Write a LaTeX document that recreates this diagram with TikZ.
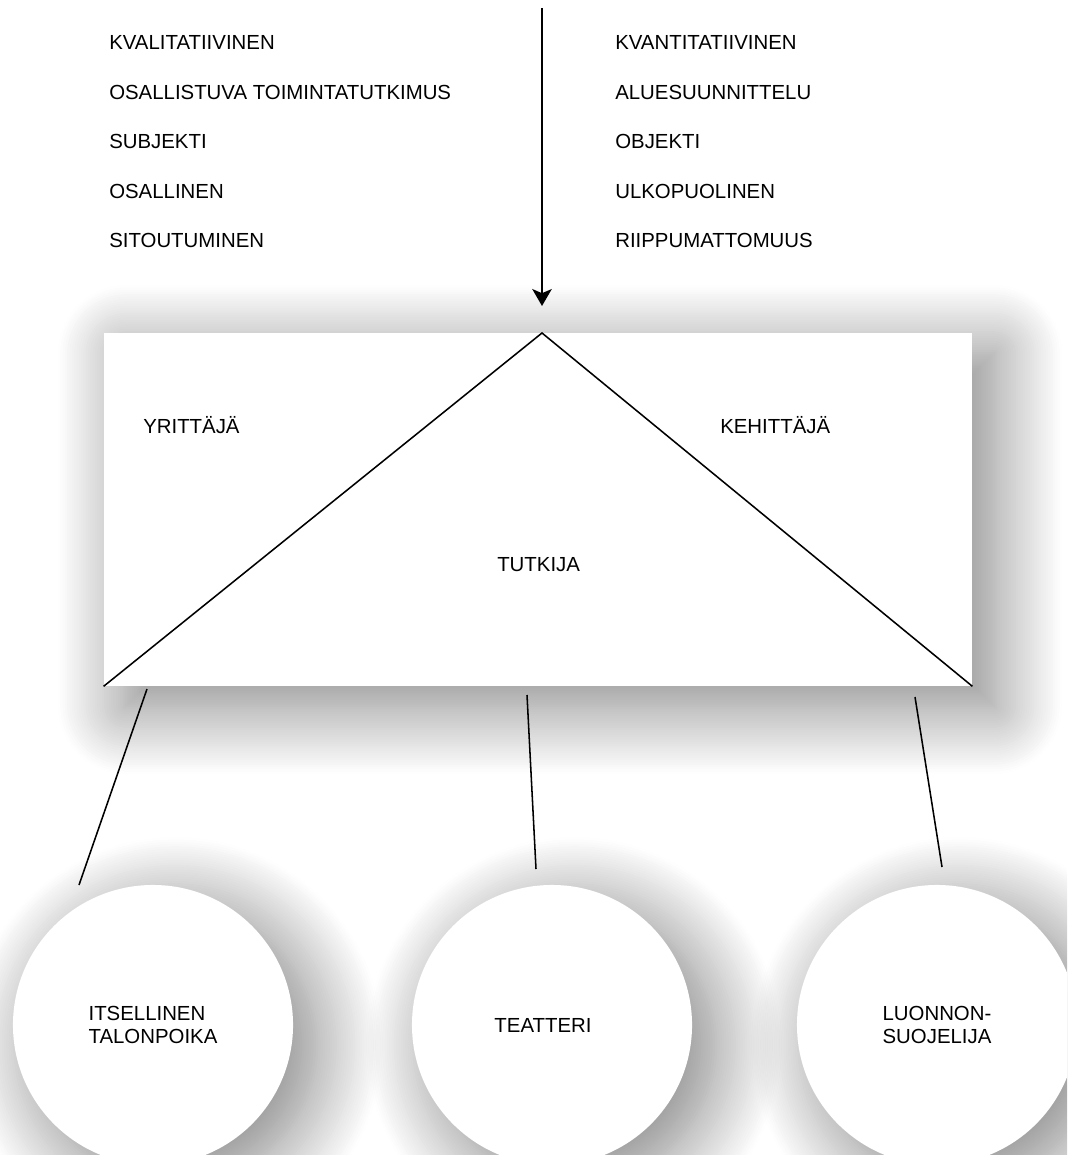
\documentclass[tikz,border=0pt]{standalone}
\usepackage{fontspec}
\setmainfont{Liberation Sans}
\usetikzlibrary{arrows.meta,shadows.blur}

\tikzset{
  soft/.style={blur shadow={shadow xshift=0.55cm,shadow yshift=-0.5cm,
      shadow blur radius=1.7cm,shadow opacity=50,shadow blur steps=30}},
  box/.style={fill=white,minimum width=21.7cm,minimum height=8.825cm,inner sep=0pt,soft},
  disc/.style={circle,fill=white,minimum size=7cm,inner sep=0pt,align=left,soft},
  word/.style={anchor=base west,inner sep=0pt},
  link/.style={line width=1.1pt},
  feed/.style={line width=2.1pt,-{Stealth[length=0.42cm,width=0.48cm,inset=0.1cm]}}
}

\begin{document}
\begin{tikzpicture}[x=0.025cm,y=-0.025cm,font=\fontsize{14.5}{17}\selectfont]
  \useasboundingbox (0,0) rectangle (1067,1155);
  \clip (0,0) rectangle (1067,1155);

  % the two research traditions
  \node[word] (kval) at (109,50) {KVALITATIIVINEN};
  \node[word] (osal) at (109,99.5) {OSALLISTUVA TOIMINTATUTKIMUS};
  \node[word] (subj) at (109,149) {SUBJEKTI};
  \node[word] (osll) at (109,198.5) {OSALLINEN};
  \node[word] (sito) at (109,248) {SITOUTUMINEN};

  \node[word] (kvan) at (615,50) {KVANTITATIIVINEN};
  \node[word] (alue) at (615,99.5) {ALUESUUNNITTELU};
  \node[word] (obje) at (615,149) {OBJEKTI};
  \node[word] (ulko) at (615,198.5) {ULKOPUOLINEN};
  \node[word] (riip) at (615,248) {RIIPPUMATTOMUUS};

  % roles
  \node[box] (roles) at (538,509.5) {};
  \coordinate (apex) at (542,333);
  \draw[link] (roles.south west) -- (apex) -- (roles.south east);
  \node[word] (yrit) at (143,433) {YRITTÄJÄ};
  \node[word] (kehi) at (720,433) {KEHITTÄJÄ};
  \node[word] (tutk) at (497,571) {TUTKIJA};

  \coordinate (src) at (542,8);
  \coordinate (tip) at (542,306);
  \draw[feed] (src) -- (tip);

  % figures
  \node[disc] (talo) at (153,1025) {ITSELLINEN\\TALONPOIKA};
  \node[disc] (teat) at (552,1025) {TEATTERI\hspace*{0.45cm}};
  \node[disc] (luon) at (937,1025) {LUONNON-\\SUOJELIJA};

  \coordinate (l1) at (147,689);
  \coordinate (l2) at (79,885);
  \coordinate (m1) at (527,695);
  \coordinate (m2) at (536,869);
  \coordinate (r1) at (915,697);
  \coordinate (r2) at (942,867);
  \draw[link] (l1) -- (l2);
  \draw[link] (m1) -- (m2);
  \draw[link] (r1) -- (r2);
\end{tikzpicture}
\end{document}
